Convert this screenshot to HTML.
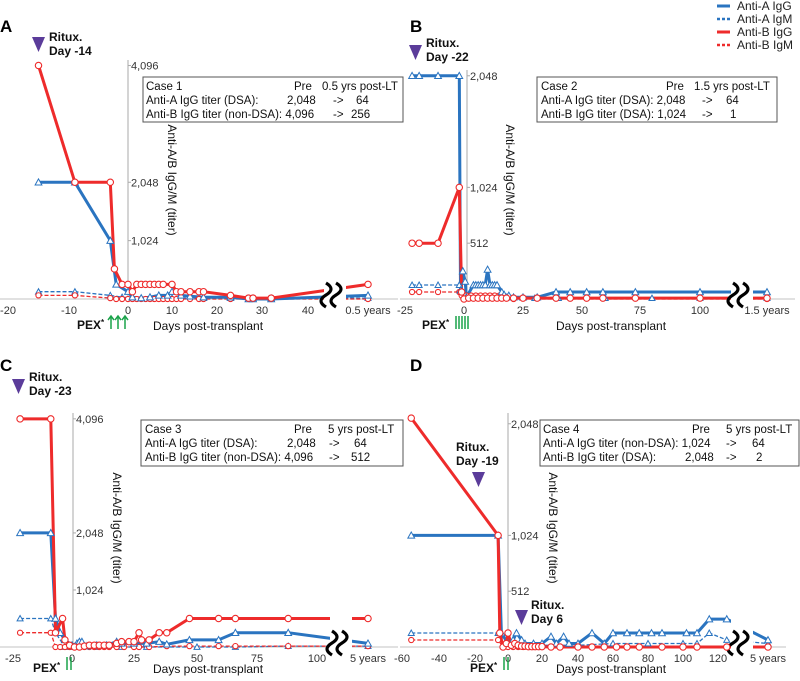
<!DOCTYPE html>
<html><head><meta charset="utf-8"><style>
html,body{margin:0;padding:0;background:#fff;}
svg{display:block;font-family:"Liberation Sans",sans-serif;}
.tk{font-size:11px;fill:#333;}
.bx{font-size:11.5px;fill:#111;}
.ttl{font-size:12px;fill:#111;}
.bold{font-weight:bold;font-size:12px;fill:#111;}
.let{font-weight:bold;font-size:17px;fill:#000;}
</style></head><body>
<svg id="chart" width="800" height="681" viewBox="0 0 800 681" xmlns="http://www.w3.org/2000/svg">
<g id="layer"></g>
<g font-size="12" fill="#222">
<line x1="717" y1="6" x2="730" y2="6" stroke="#2a74c0" stroke-width="3"/><text x="737" y="10">Anti-A IgG</text>
<line x1="717" y1="19" x2="731" y2="19" stroke="#2a74c0" stroke-width="2.5" stroke-dasharray="3,2"/><text x="737" y="23">Anti-A IgM</text>
<line x1="717" y1="32" x2="730" y2="32" stroke="#ee2b2b" stroke-width="3"/><text x="737" y="36">Anti-B IgG</text>
<line x1="717" y1="45" x2="731" y2="45" stroke="#ee2b2b" stroke-width="2.5" stroke-dasharray="3,2"/><text x="737" y="49">Anti-B IgM</text>
</g>
<text class="let" x="0" y="32">A</text>
<text class="let" x="410" y="32">B</text>
<text class="let" x="0" y="371">C</text>
<text class="let" x="410" y="371">D</text>
<g fill="#5b3c9a">
<polygon points="32,37 45,37 38.5,52"/>
<polygon points="409,45 422,45 415.5,60"/>
<polygon points="12,379 25,379 18.5,394"/>
<polygon points="472,472 485,472 478.5,487"/>
<polygon points="515,610 528,610 521.5,625"/>
</g>
<text class="bold" x="49" y="41">Ritux.<tspan x="49" y="55">Day -14</tspan></text>
<text class="bold" x="426" y="47">Ritux.<tspan x="426" y="61">Day -22</tspan></text>
<text class="bold" x="29" y="381">Ritux.<tspan x="29" y="395">Day -23</tspan></text>
<text class="bold" x="456" y="451">Ritux.<tspan x="456" y="465">Day -19</tspan></text>
<text class="bold" x="531" y="609">Ritux.<tspan x="531" y="623">Day 6</tspan></text>
<g>
<text class="bold" x="77" y="329">PEX<tspan font-size="8" dy="-4">*</tspan></text>
<text class="bold" x="422" y="329">PEX<tspan font-size="8" dy="-4">*</tspan></text>
<text class="bold" x="33" y="672">PEX<tspan font-size="8" dy="-4">*</tspan></text>
<text class="bold" x="470" y="672">PEX<tspan font-size="8" dy="-4">*</tspan></text>
</g>
<g stroke="#1aa34a" stroke-width="1.5" fill="none">
<path d="M111,329 V317 M108,320 L111,316 L114,320 M118,329 V317 M115,320 L118,316 L121,320 M125,329 V317 M122,320 L125,316 L128,320"/>
<path d="M456,329 V316 M459,329 V316 M462,329 V316 M465,329 V316 M468,329 V316"/>
<path d="M67,670 V657 M71,670 V657"/>
<path d="M504,670 V657 M508,670 V657"/>
</g>
<g>
<rect x="143" y="77" width="260" height="45" fill="#fff" stroke="#555" stroke-width="1"/>
<text class="bx" x="146" y="90">Case 1</text><text class="bx" x="294" y="90">Pre</text><text class="bx" x="322" y="90">0.5 yrs post-LT</text>
<text class="bx" x="146" y="104">Anti-A IgG titer (DSA):</text><text class="bx" x="287" y="104">2,048</text><text class="bx" x="333" y="104">-&gt;</text><text class="bx" x="356" y="104">64</text>
<text class="bx" x="146" y="118">Anti-B IgG titer (non-DSA): 4,096</text><text class="bx" x="333" y="118">-&gt;</text><text class="bx" x="351" y="118">256</text>
</g>
<g>
<rect x="537" y="77" width="240" height="45" fill="#fff" stroke="#555" stroke-width="1"/>
<text class="bx" x="541" y="90">Case 2</text><text class="bx" x="666" y="90">Pre</text><text class="bx" x="694" y="90">1.5 yrs post-LT</text>
<text class="bx" x="541" y="104">Anti-A IgG titer (DSA): 2,048</text><text class="bx" x="702" y="104">-&gt;</text><text class="bx" x="726" y="104">64</text>
<text class="bx" x="541" y="118">Anti-B IgG titer (DSA): 1,024</text><text class="bx" x="702" y="118">-&gt;</text><text class="bx" x="730" y="118">1</text>
</g>
<g>
<rect x="141" y="420" width="262" height="46" fill="#fff" stroke="#555" stroke-width="1"/>
<text class="bx" x="145" y="433">Case 3</text><text class="bx" x="294" y="433">Pre</text><text class="bx" x="328" y="433">5 yrs post-LT</text>
<text class="bx" x="145" y="447">Anti-A IgG titer (DSA):</text><text class="bx" x="287" y="447">2,048</text><text class="bx" x="329" y="447">-&gt;</text><text class="bx" x="354" y="447">64</text>
<text class="bx" x="145" y="461">Anti-B IgG titer (non-DSA): 4,096</text><text class="bx" x="329" y="461">-&gt;</text><text class="bx" x="351" y="461">512</text>
</g>
<g>
<rect x="540" y="420" width="259" height="46" fill="#fff" stroke="#555" stroke-width="1"/>
<text class="bx" x="543" y="433">Case 4</text><text class="bx" x="692" y="433">Pre</text><text class="bx" x="726" y="433">5 yrs post-LT</text>
<text class="bx" x="543" y="447">Anti-A IgG titer (non-DSA): 1,024</text><text class="bx" x="726" y="447">-&gt;</text><text class="bx" x="752" y="447">64</text>
<text class="bx" x="543" y="461">Anti-B IgG titer (DSA):</text><text class="bx" x="685" y="461">2,048</text><text class="bx" x="726" y="461">-&gt;</text><text class="bx" x="756" y="461">2</text>
</g>
<text class="ttl" transform="translate(168,180) rotate(90)" text-anchor="middle">Anti-A/B IgG/M (titer)</text>
<text class="ttl" transform="translate(506,180) rotate(90)" text-anchor="middle">Anti-A/B IgG/M (titer)</text>
<text class="ttl" transform="translate(113,528) rotate(90)" text-anchor="middle">Anti-A/B IgG/M (titer)</text>
<text class="ttl" transform="translate(549,528) rotate(90)" text-anchor="middle">Anti-A/B IgG/M (titer)</text>
<text class="ttl" x="153" y="330">Days post-transplant</text>
<text class="ttl" x="556" y="330">Days post-transplant</text>
<text class="ttl" x="153" y="673">Days post-transplant</text>
<text class="ttl" x="556" y="673">Days post-transplant</text>
</svg>
<script>
const A_xTicks = [-20,-10,0,10,20,30,40];
const A_yTicks = [1024,2048,4096];
const A_bG_x = [-15,-9,-3,-2,0,1,3,5,7,9,10,12,14,17,23,27,28,32];
const A_bG_y = [2048,2048,1024,256,128,32,16,32,64,64,128,64,48,32,32,0,0,0];
const A_bM_x = [-15,-9,-3,-1,1,5,10,17,23,28,32];
const A_bM_y = [128,128,64,32,16,16,16,16,16,16,16];
const A_rG_x = [-15,-9,-3,-2.3,-1,0,1,2,3,4,5,6,7,8,10,11,12,14,16,17,23,27,28,32];
const A_rG_y = [4096,2048,2048,528,256,256,128,256,256,256,256,256,256,256,256,128,128,128,128,128,64,16,16,16];
const A_rM_x = [-15,-9,-3,-2,-1,0,1,2,3,4,5,6,7,8,9,10,11,12,14,16,17,23,27,28,32];
const A_rM_y = [64,64,16,0,0,0,0,0,0,0,0,0,0,0,0,0,0,0,0,0,0,0,0,0,0];
const A_late = [64,16,256,0];
const B_xTicks = [-25,0,25,50,75,100];
const B_yTicks = [512,1024,2048];
const B_bG_x = [-22,-19,-11,-2,-1.5,-0.5,0.5,1,4,5,6,7,8,9,10,11,12,13,14,16,17,19,21,25,31,39,45,52,59,73,100];
const B_bG_y = [2048,2048,2048,2048,80,256,160,16,128,128,128,128,128,128,270,128,128,128,128,64,40,32,16,16,16,64,64,64,64,64,64];
const B_bM_x = [-22,-19,-11,-2,0,2,4,8,12,16,21,30,40,60,80,100];
const B_bM_y = [128,128,128,128,48,16,16,16,16,16,16,8,8,8,8,8];
const B_rG_x = [-22,-19,-11,-2,-1,0,2,4,6,8,10,12,14,16,18,21,25,31,39,45,52,59,73,100];
const B_rG_y = [512,512,512,1024,64,0,8,8,8,8,8,8,8,8,8,8,8,8,8,8,8,8,8,8];
const B_rM_x = [-22,-19,-11,-2,-1,1,3,5,7,9,11,13,15,17,19,21];
const B_rM_y = [64,64,64,64,32,32,32,32,32,32,32,32,32,16,16,0];
const B_late = [64,8,8,0];
const C_xTicks = [-25,0,25,50,75,100];
const C_yTicks = [1024,2048,4096];
const C_bG_x = [-22,-9,-7,-5,-3,0,2,3,4,6,10,14,18,20,25,30,35,38,47,59,66,88];
const C_bG_y = [2048,2048,512,256,128,32,64,96,96,16,32,32,96,64,64,64,96,48,128,128,256,256];
const C_bM_x = [-22,-9,-7,-3,0,10,20,30,50,66,88];
const C_bM_y = [512,512,256,0,0,0,0,0,0,0,16];
const C_rG_x = [-22,-9,-7,-4,-3,-1,1,3,5,7,9,11,13,15,18,20,23,25,27,28,31,35,38,47,59,66,88];
const C_rG_y = [4096,4096,256,512,128,32,0,0,16,32,32,32,32,32,64,96,96,96,256,128,128,256,256,512,512,512,512];
const C_rM_x = [-22,-9,-7,-5,-3,-1,1,3,5,7,9,11,13,15,18,21,25,27,31,38,47,59,66,88];
const C_rM_y = [256,256,0,0,0,0,0,0,0,0,0,0,0,0,0,0,0,0,0,16,16,16,16,16];
const C_late = [64,16,512,16];
const D_xTicks = [-60,-40,-20,0,20,40,60,80,100,120];
const D_yTicks = [512,1024,2048];
const D_bG_x = [-55,-6,-4,0,3,5,8,10,15,20,25,28,32,35,40,48,55,60,68,75,82,88,102,108,115,125];
const D_bG_y = [1024,1024,128,32,64,128,64,32,32,32,96,32,96,32,32,128,32,128,128,128,128,128,128,128,256,256];
const D_bM_x = [-55,-6,0,5,10,20,40,60,80,100,108,115,125];
const D_bM_y = [128,128,32,16,16,16,16,32,32,32,32,128,64];
const D_rG_x = [-55,-6,-5,-3,-1,0,2,4,6,8,10,12,14,16,18,20,25,30,40,48,55,62,68,75,88,100,108,125];
const D_rG_y = [2100,1024,128,0,32,128,16,32,16,8,8,4,4,4,4,4,0,0,0,0,0,0,0,0,0,0,0,0];
const D_rM_x = [-55,-6,-3,0,3,6,9,12,15,20,30,40];
const D_rM_y = [64,64,0,0,0,0,0,0,0,0,0,0];
const D_late = [64,32,0,0];

const BLUE = '#2a74c0', RED = '#ee2b2b';
const NS = 'http://www.w3.org/2000/svg';
const layer = document.getElementById('layer');
function mk(tag, attrs, parent) {
  const e = document.createElementNS(NS, tag);
  for (const k in attrs) e.setAttribute(k, attrs[k]);
  (parent || layer).appendChild(e);
  return e;
}
function xScale(tv, tp) {
  return function (v) {
    let i = 0;
    while (i < tv.length - 2 && v > tv[i + 1]) i++;
    return tp[i] + (v - tv[i]) * (tp[i + 1] - tp[i]) / (tv[i + 1] - tv[i]);
  };
}
function fmt(n) { return n.toLocaleString('en-US'); }

function panel(cfg) {
  const g = mk('g', {});
  
  
  const X = xScale(cfg.xTicks, cfg.xTickPx);
  const Y = v => cfg.base - v * cfg.k;
  const bl = mk('line', {x1: cfg.left, y1: cfg.base, x2: cfg.right, y2: cfg.base, stroke: '#cfcfcf', 'stroke-width': 1.2}, g);
  
  
  const ya = mk('line', {x1: cfg.axisX, y1: cfg.yTop, x2: cfg.axisX, y2: cfg.base, stroke: '#aaa', 'stroke-width': 1}, g);
  
  
  cfg.yTicks.forEach(v => {
    mk('line', {x1: cfg.axisX, y1: Y(v), x2: cfg.axisX + 3, y2: Y(v), stroke: '#aaa'}, g);
    const t = mk('text', {x: cfg.axisX + 3, y: Y(v) + 4, class: 'tk'}, g);
    t.textContent = fmt(v);
    
    
  });
  cfg.xTicks.forEach(v => {
    const t = mk('text', {x: X(v), y: cfg.base + 15, class: 'tk', 'text-anchor': 'middle'}, g);
    t.textContent = v;
    
    
  });
  const lt = mk('text', {x: cfg.lateX, y: cfg.base + 15, class: 'tk', 'text-anchor': 'middle'}, g);
  lt.textContent = cfg.lateLabel;
  
  

  const series = [
    {xs: cfg.bMx, ys: cfg.bMy, late: cfg.late[1], c: BLUE, dash: true, m: 'tri', nm: 'anti-a-igm'},
    {xs: cfg.rMx, ys: cfg.rMy, late: cfg.late[3], c: RED, dash: true, m: 'cir', nm: 'anti-b-igm'},
    {xs: cfg.bGx, ys: cfg.bGy, late: cfg.late[0], c: BLUE, dash: false, m: 'tri', nm: 'anti-a-igg'},
    {xs: cfg.rGx, ys: cfg.rGy, late: cfg.late[2], c: RED, dash: false, m: 'cir', nm: 'anti-b-igg'}
  ];
  const lines = mk('g', {}, g);
  series.forEach(s => {
    const pts = s.xs.map((x, i) => X(x).toFixed(1) + ',' + Y(s.ys[i]).toFixed(1));
    pts.push(cfg.lateX + ',' + Y(s.late).toFixed(1));
    const pl = mk('polyline', {points: pts.join(' '), fill: 'none', stroke: s.c,
      'stroke-width': s.dash ? 1.3 : 3, 'stroke-dasharray': s.dash ? '4,2' : 'none', 'stroke-linejoin': 'round'}, lines);
    
    
  });
  const mask = mk('rect', {x: cfg.brk - 11, y: cfg.base - 45, width: 22, height: 52, fill: '#fff'}, g);
  
  
  const sq = mk('path', {d: 'M' + (cfg.brk - 9) + ',' + (cfg.base - 16) + ' q10,6 0,12 q-10,6 0,12 M' + (cfg.brk + 1) + ',' + (cfg.base - 16) + ' q10,6 0,12 q-10,6 0,12',
    fill: 'none', stroke: '#000', 'stroke-width': 3.2}, g);
  
  
  series.forEach(s => {
    const xs = s.xs.concat([null]);
    xs.forEach((x, i) => {
      const px = x === null ? cfg.lateX : X(x);
      const py = Y(x === null ? s.late : s.ys[i]);
      let el;
      if (s.m === 'cir') {
        el = mk('circle', {cx: px, cy: py, r: s.dash ? 2.6 : 3.2, fill: '#fff', stroke: s.c, 'stroke-width': 1.1}, g);
      } else {
        const r = s.dash ? 3 : 3.4;
        el = mk('polygon', {points: px + ',' + (py - r) + ' ' + (px - r) + ',' + (py + r * 0.8) + ' ' + (px + r) + ',' + (py + r * 0.8), fill: '#fff', stroke: s.c, 'stroke-width': 1}, g);
      }
      
      
    });
  });
}

panel({name: 'panel-a', xTicks: A_xTicks, xTickPx: [8,69,128,172,217,262,308], yTicks: A_yTicks,
  base: 299, k: 0.0570, axisX: 128, yTop: 60, left: 0, right: 398, lateX: 368, brk: 335, lateLabel: '0.5 years',
  bGx: A_bG_x, bGy: A_bG_y, bMx: A_bM_x, bMy: A_bM_y, rGx: A_rG_x, rGy: A_rG_y, rMx: A_rM_x, rMy: A_rM_y, late: A_late});
panel({name: 'panel-b', xTicks: B_xTicks, xTickPx: [405,464,523,582,640,700], yTicks: B_yTicks,
  base: 299, k: 0.109, axisX: 467, yTop: 70, left: 400, right: 795, lateX: 767, brk: 742, lateLabel: '1.5 years',
  bGx: B_bG_x, bGy: B_bG_y, bMx: B_bM_x, bMy: B_bM_y, rGx: B_rG_x, rGy: B_rG_y, rMx: B_rM_x, rMy: B_rM_y, late: B_late});
panel({name: 'panel-c', xTicks: C_xTicks, xTickPx: [13,72,134,197,257,317], yTicks: C_yTicks,
  base: 647, k: 0.0557, axisX: 73, yTop: 413, left: 0, right: 398, lateX: 368, brk: 341, lateLabel: '5 years',
  bGx: C_bG_x, bGy: C_bG_y, bMx: C_bM_x, bMy: C_bM_y, rGx: C_rG_x, rGy: C_rG_y, rMx: C_rM_x, rMy: C_rM_y, late: C_late});
panel({name: 'panel-d', xTicks: D_xTicks, xTickPx: [402,439,475,508,542,578,613,648,683,718], yTicks: D_yTicks,
  base: 647, k: 0.109, axisX: 508, yTop: 413, left: 400, right: 786, lateX: 768, brk: 742, lateLabel: '5 years',
  bGx: D_bG_x, bGy: D_bG_y, bMx: D_bM_x, bMy: D_bM_y, rGx: D_rG_x, rGy: D_rG_y, rMx: D_rM_x, rMy: D_rM_y, late: D_late});
</script>
</body></html>
